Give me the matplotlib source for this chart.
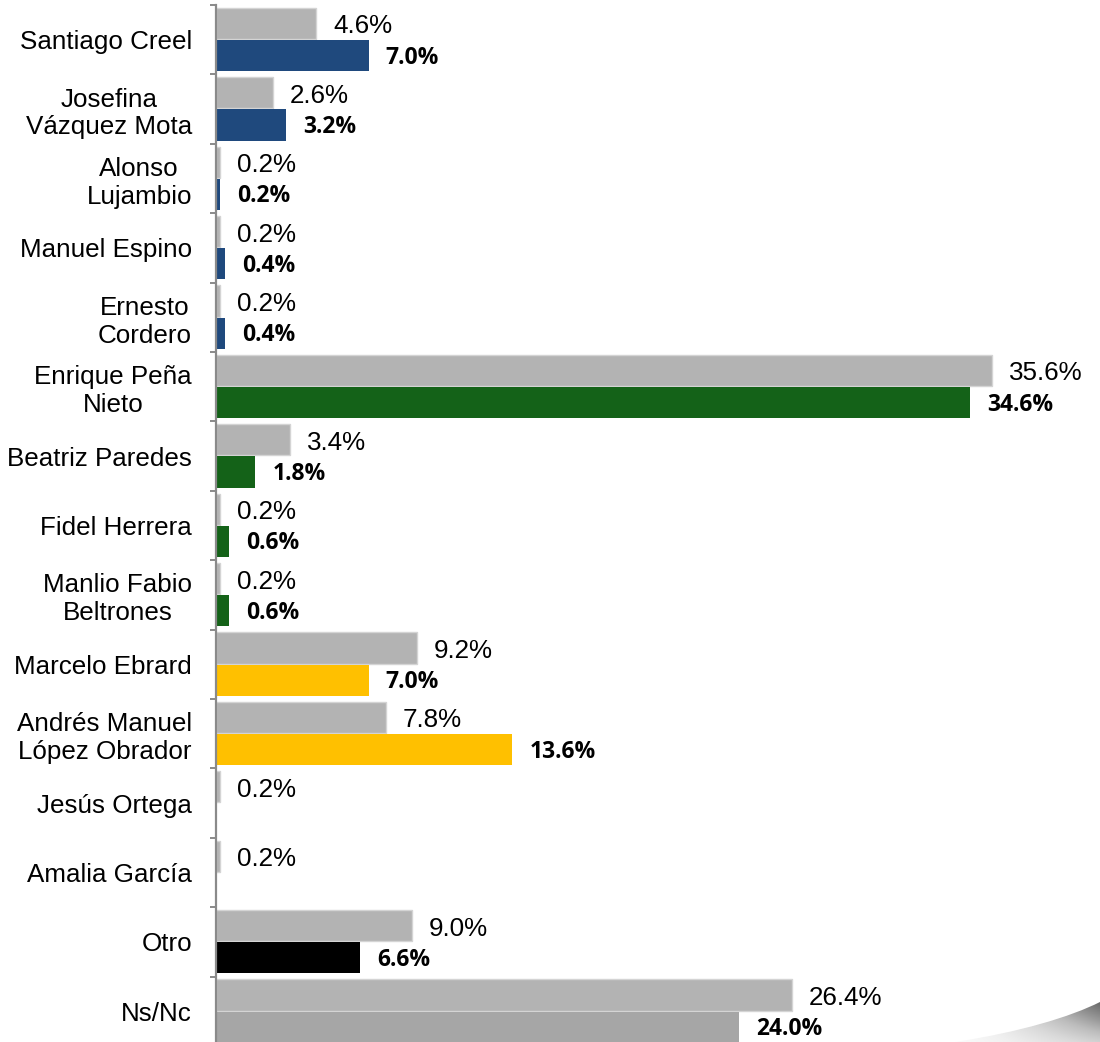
import numpy as np
import matplotlib.pyplot as plt
from matplotlib.path import Path
from matplotlib.patches import PathPatch

names = ["Santiago Creel", "Josefina\nVázquez Mota", "Alonso\nLujambio", "Manuel Espino",
         "Ernesto\nCordero", "Enrique Peña\nNieto", "Beatriz Paredes", "Fidel Herrera",
         "Manlio Fabio\nBeltrones", "Marcelo Ebrard", "Andrés Manuel\nLópez Obrador",
         "Jesús Ortega", "Amalia García", "Otro", "Ns/Nc"]
previo = [4.6, 2.6, 0.2, 0.2, 0.2, 35.6, 3.4, 0.2, 0.2, 9.2, 7.8, 0.2, 0.2, 9.0, 26.4]
actual = [7.0, 3.2, 0.2, 0.4, 0.4, 34.6, 1.8, 0.6, 0.6, 7.0, 13.6, None, None, 6.6, 24.0]

azul, verde, amarillo = '#1f497d', '#146218', '#ffc000'
colores = [azul] * 5 + [verde] * 4 + [amarillo] * 2 + [amarillo] * 2 + ['#000000', '#a6a6a6']

fig = plt.figure(figsize=(11, 10.42), dpi=100)

# decorative gray swoosh in the lower right corner
deco = fig.add_axes([0, 0, 1, 1], zorder=0)
deco.set_xlim(0, 1100)
deco.set_ylim(1042, 0)
deco.axis('off')
verts = [(955, 1042), (1020, 1032), (1070, 1017), (1100, 1002), (1100, 1042), (955, 1042)]
codes = [Path.MOVETO, Path.CURVE4, Path.CURVE4, Path.CURVE4, Path.LINETO, Path.CLOSEPOLY]
patch = PathPatch(Path(verts, codes), facecolor='none', edgecolor='none')
deco.add_patch(patch)
gx = np.linspace(0, 1, 200)
gy = np.linspace(0, 1, 40)[:, None]
grad = gx[None, :] * (0.4 + 0.6 * gy)
img = deco.imshow(grad, extent=(955, 1100, 1000, 1042), origin='upper', cmap='Greys',
                  vmin=-0.05, vmax=1.5, aspect='auto', interpolation='bicubic')
img.set_clip_path(patch)

ax = fig.add_axes([216 / 1100, -4 / 1042, 884 / 1100, 1041 / 1042], zorder=1)
ax.patch.set_visible(False)

n = len(names)
y = np.arange(n)
h = 0.45

for i in range(n):
    ax.barh(i + 0.265, previo[i], height=h, color='#b3b3b3', edgecolor='#d4d4d4', linewidth=1)
    ax.annotate(f'{previo[i]:.1f}%', (previo[i], i + 0.265), xytext=(17, -3),
                textcoords='offset pixels', va='center', ha='left',
                fontsize=18.7, family='Liberation Sans', color='#000000')
    if actual[i] is not None:
        ax.barh(i + 0.73, actual[i], height=h, color=colores[i])
        ax.annotate(f'{actual[i]:.1f}%', (actual[i], i + 0.73), xytext=(17, -2),
                    textcoords='offset pixels', va='center', ha='left',
                    fontsize=16.5, family='Open Sans', fontweight='bold', color='#000000')

ax.set_xlim(0, 40.55)
ax.set_ylim(n, 0)

for s in ['top', 'right', 'bottom']:
    ax.spines[s].set_visible(False)
ax.spines['left'].set_color('#8a8a8a')
ax.spines['left'].set_linewidth(1.6)

ax.set_xticks([])
ax.set_yticks(y + 0.5)
ax.set_yticklabels(names, fontsize=18.7, family='Liberation Sans', multialignment='center')
ax.set_yticks(np.arange(n + 1), minor=True)
ax.tick_params(axis='y', which='major', length=0, pad=17.3)
ax.tick_params(axis='y', which='minor', length=4.5, width=1.4, color='#8a8a8a')

fig.savefig('out.png', dpi=100)
